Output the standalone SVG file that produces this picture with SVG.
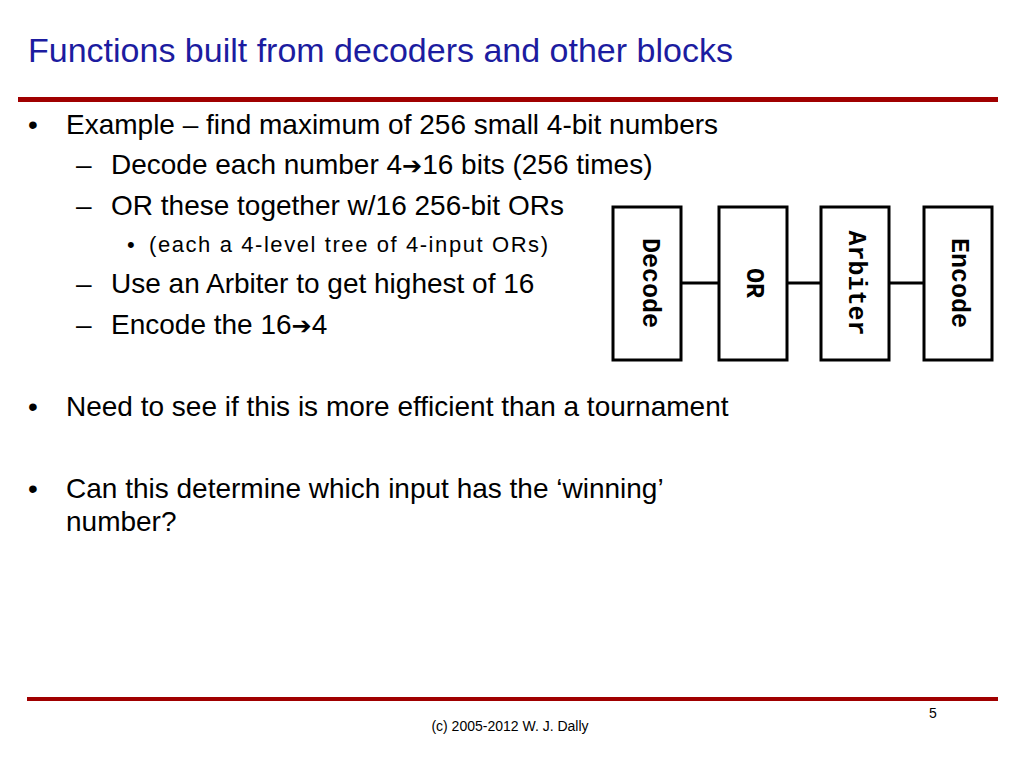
<svg xmlns="http://www.w3.org/2000/svg" width="1024" height="768" viewBox="0 0 1024 768">
<style>
.t{font-family:"Liberation Sans",Arial,sans-serif;fill:#000}
.a{font-family:"DejaVu Sans",sans-serif;font-weight:bold;font-size:24px}
.b{fill:#fff;stroke:#000;stroke-width:3}
.m{font-family:"Liberation Mono","Courier New",monospace;font-weight:bold;font-size:25px;text-anchor:middle;dominant-baseline:central}
</style>
<rect width="1024" height="768" fill="#fff"/>
<text x="28" y="62" class="t" style="font-size:34px;fill:#1c1ca0">Functions built from decoders and other blocks</text>
<rect x="18" y="97" width="980" height="5" fill="#a00000"/>
<g class="t" style="font-size:28px">
<text x="28" y="134">•</text>
<text x="66" y="134">Example – find maximum of 256 small 4-bit numbers</text>
<text x="76" y="174">–</text>
<text x="111" y="174">Decode each number 4<tspan class="a">➔</tspan>16 bits (256 times)</text>
<text x="76" y="215">–</text>
<text x="111" y="215">OR these together w/16 256-bit ORs</text>
<text x="127" y="252" style="font-size:22px">•</text>
<text x="149" y="252" style="font-size:22px" textLength="399">(each a 4-level tree of 4-input ORs)</text>
<text x="76" y="293">–</text>
<text x="111" y="293">Use an Arbiter to get highest of 16</text>
<text x="76" y="334">–</text>
<text x="111" y="334">Encode the 16<tspan class="a">➔</tspan>4</text>
<text x="28" y="416">•</text>
<text x="66" y="416">Need to see if this is more efficient than a tournament</text>
<text x="28" y="498">•</text>
<text x="66" y="498">Can this determine which input has the  ‘winning’</text>
<text x="66" y="531">number?</text>
</g>
<g id="connectors" stroke="#000" stroke-width="3">
<line x1="681" y1="283" x2="719" y2="283"/>
<line x1="787" y1="283" x2="821" y2="283"/>
<line x1="889" y1="283" x2="924" y2="283"/>
</g>
<g id="decode"><rect class="b" x="613" y="207" width="68" height="153"/><text class="m" transform="translate(649,283) rotate(90)">Decode</text></g>
<g id="or"><rect class="b" x="719" y="207" width="68" height="153"/><text class="m" transform="translate(753,283) rotate(90)">OR</text></g>
<g id="arbiter"><rect class="b" x="821" y="207" width="68" height="153"/><text class="m" transform="translate(855,283) rotate(90)">Arbiter</text></g>
<g id="encode"><rect class="b" x="924" y="207" width="68" height="153"/><text class="m" transform="translate(958,283) rotate(90)">Encode</text></g>
<rect x="27" y="697" width="971" height="4" fill="#a00000"/>
<text x="929" y="718" class="t" style="font-size:14px">5</text>
<text x="510" y="731" class="t" style="font-size:14px;text-anchor:middle">(c) 2005-2012 W. J. Dally</text>
</svg>
